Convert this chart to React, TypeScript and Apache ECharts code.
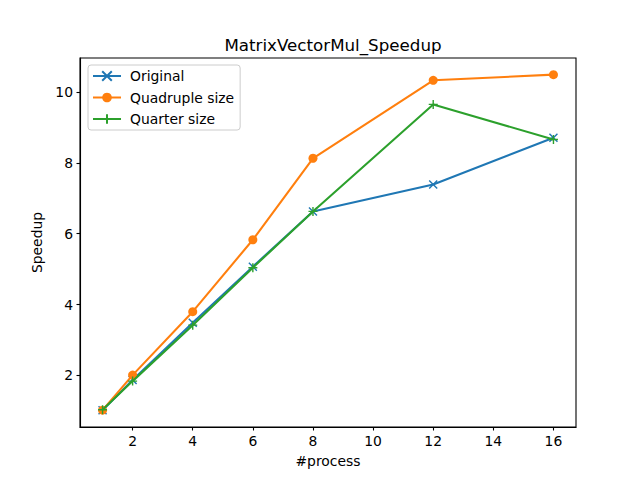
import React, { useEffect, useRef } from "react";
import * as echarts from "echarts";

const processes = [1, 2, 4, 6, 8, 12, 16];
const originalSpeedup = [1.02, 1.87, 3.49, 5.07, 6.63, 7.39, 8.71];
const quadrupleSpeedup = [1.02, 2.01, 3.8, 5.83, 8.13, 10.33, 10.49];
const quarterSpeedup = [1.03, 1.84, 3.42, 5.04, 6.63, 9.65, 8.66];
const xTicks = [2, 4, 6, 8, 10, 12, 14, 16];
const yTicks = [2, 4, 6, 8, 10];

const FONT = "DejaVu Sans";

export default function App() {
  const ref = useRef<HTMLDivElement>(null);
  useEffect(() => {
    if (!ref.current) return;
    const chart = echarts.init(ref.current, undefined, { renderer: "svg" });
    const pair = (ys: number[]) => processes.map((x, i) => [x, ys[i]]);
    const xSym = "path://M0,0 L10,10 M10,0 L0,10";
    const plusSym = "path://M5,0 L5,10 M0,5 L10,5";
    chart.setOption({
      animation: false,
      backgroundColor: "#ffffff",
      textStyle: { fontFamily: FONT },
      title: {
        text: "MatrixVectorMul_Speedup",
        left: 328,
        textAlign: "center",
        top: 31,
        textStyle: { fontFamily: FONT, fontSize: 16.7, fontWeight: "normal", color: "#000" },
      },
      legend: {
        orient: "vertical",
        left: 88,
        top: 65,
        padding: [4, 6, 4, 4],
        itemGap: 7.5,
        itemWidth: 28,
        itemHeight: 12,
        borderColor: "#cccccc",
        borderWidth: 1,
        borderRadius: 3,
        backgroundColor: "rgba(255,255,255,0.8)",
        textStyle: { fontFamily: FONT, fontSize: 13.9, color: "#000", padding: [0, 0, 0, 4] },
        data: ["Original", "Quadruple size", "Quarter size"],
      },
      grid: {
        left: 80,
        right: 64,
        top: 58,
        bottom: 53,
        show: true,
        borderColor: "#000",
        borderWidth: 1.1,
        backgroundColor: "transparent",
      },
      xAxis: {
        type: "value",
        min: 0.25,
        max: 16.75,
        name: "#process",
        nameLocation: "middle",
        nameGap: 27,
        nameTextStyle: { fontFamily: FONT, fontSize: 13.9, color: "#000" },
        splitLine: { show: false },
        axisLine: { show: true, lineStyle: { color: "#000", width: 1.1 } },
        axisTick: { show: true, length: 3.5, lineStyle: { color: "#000", width: 1.1 }, customValues: xTicks },
        axisLabel: { color: "#000", fontFamily: FONT, fontSize: 13.9, margin: 7, customValues: xTicks },
      },
      yAxis: {
        type: "value",
        min: 0.545,
        max: 10.96,
        name: "Speedup",
        nameLocation: "middle",
        nameGap: 31,
        nameTextStyle: { fontFamily: FONT, fontSize: 13.9, color: "#000" },
        splitLine: { show: false },
        axisLine: { show: true, lineStyle: { color: "#000", width: 1.1 } },
        axisTick: { show: true, length: 3.5, lineStyle: { color: "#000", width: 1.1 }, customValues: yTicks },
        axisLabel: { color: "#000", fontFamily: FONT, fontSize: 13.9, margin: 7, customValues: yTicks },
      },
      series: [
        {
          name: "Original",
          type: "line",
          data: pair(originalSpeedup),
          symbol: xSym,
          symbolSize: 8,
          showAllSymbol: true,
          lineStyle: { color: "#1f77b4", width: 2.08 },
          itemStyle: { color: "#1f77b4", borderColor: "#1f77b4", borderWidth: 1.4 },
          z: 2,
        },
        {
          name: "Quadruple size",
          type: "line",
          data: pair(quadrupleSpeedup),
          symbol: "circle",
          symbolSize: 9,
          lineStyle: { color: "#ff7f0e", width: 2.08 },
          itemStyle: { color: "#ff7f0e", borderColor: "#ff7f0e", borderWidth: 0 },
          z: 3,
        },
        {
          name: "Quarter size",
          type: "line",
          data: pair(quarterSpeedup),
          symbol: plusSym,
          symbolSize: 9,
          lineStyle: { color: "#2ca02c", width: 2.08 },
          itemStyle: { color: "#2ca02c", borderColor: "#2ca02c", borderWidth: 1.4 },
          z: 4,
        },
      ],
    });
    return () => chart.dispose();
  }, []);
  return (
    <div
      ref={ref}
      style={{ position: "fixed", left: 0, top: 0, width: 640, height: 480, background: "#fff" }}
    />
  );
}
